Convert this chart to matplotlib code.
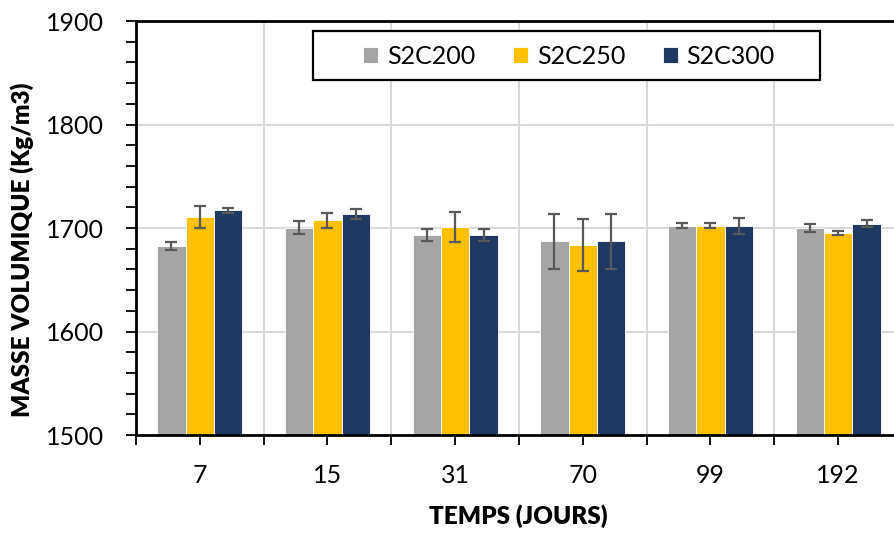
import numpy as np
import matplotlib
matplotlib.use("Agg")
import matplotlib.pyplot as plt
from matplotlib.ticker import MultipleLocator
from matplotlib.patches import Rectangle

# data
jours = ['7', '15', '31', '70', '99', '192']
s2c200 = [1682.5, 1700.3, 1693.2, 1687.4, 1702.2, 1699.7]
s2c250 = [1710.6, 1707.4, 1700.7, 1683.3, 1702.0, 1695.2]
s2c300 = [1717.0, 1713.5, 1693.2, 1687.4, 1702.0, 1704.2]
err200 = [4.0, 6.0, 6.0, 26.6, 2.4, 4.0]
err250 = [11.0, 7.5, 14.5, 25.3, 2.4, 2.0]
err300 = [2.5, 5.0, 6.0, 26.6, 8.0, 3.2]

series = [('S2C200', s2c200, err200, '#A5A5A5'),
          ('S2C250', s2c250, err250, '#FFC000'),
          ('S2C300', s2c300, err300, '#203864')]

plt.rcParams['font.family'] = ['Lato', 'DejaVu Sans']

fig = plt.figure(figsize=(8.95, 5.34), dpi=100)
ax = fig.add_axes([136 / 895, 99 / 534, 766 / 895, 414 / 534])

x = np.arange(len(jours))
w = 0.222
for i, (name, vals, errs, col) in enumerate(series):
    ax.bar(x + (i - 1) * w, np.array(vals) - 1500, w, bottom=1500, color=col,
           edgecolor='white', linewidth=0.6, label=name, zorder=3,
           yerr=errs, error_kw=dict(ecolor='#595959', elinewidth=1.6,
                                    capsize=4, capthick=1.6, zorder=4))

ax.set_xlim(-0.5, 5.5)
ax.set_ylim(1500, 1900)
ax.set_xticks(x)
ax.set_xticklabels(jours)
ax.xaxis.set_minor_locator(MultipleLocator(1, offset=0.5))
ax.yaxis.set_major_locator(MultipleLocator(100))
ax.yaxis.set_minor_locator(MultipleLocator(20))

ax.grid(axis='x', which='minor', color='#d9d9d9', linewidth=1.5, zorder=0)
ax.grid(axis='y', which='major', color='#d9d9d9', linewidth=1.5, zorder=0)

ax.tick_params(axis='both', which='both', direction='out', length=7,
               width=1.3, color='black', labelsize=18)
ax.tick_params(axis='y', which='major', pad=16)
ax.tick_params(axis='x', which='major', pad=14)

for side in ['left', 'bottom', 'top', 'right']:
    ax.spines[side].set_linewidth(2)
    ax.spines[side].set_color('black')
    ax.spines[side].set_zorder(6)

ax.set_xlabel('TEMPS (JOURS)', fontsize=17.5, fontweight='heavy')
ax.xaxis.label.set_va('center')
ax.xaxis.set_label_coords(0.499, -0.196)
ax.set_ylabel('MASSE VOLUMIQUE (Kg/m3)', fontsize=17.5, fontweight='heavy')
ax.yaxis.label.set_va('center')
ax.yaxis.set_label_coords(-0.149, 0.447)

# legend frame drawn separately (wide box with centred entries)
frame = Rectangle(((313 - 136) / 766, (435 - 80) / 414), (820 - 313) / 766, 49 / 414,
                  transform=ax.transAxes, facecolor='white', edgecolor='black',
                  linewidth=1.6, zorder=7)
ax.add_patch(frame)
leg = ax.legend(loc='center', bbox_to_anchor=((569 - 136) / 766, (435 - 56) / 414),
                ncol=3, fontsize=18, frameon=False, handlelength=0.6,
                handleheight=0.6, columnspacing=1.5, handletextpad=0.35,
                borderpad=0, borderaxespad=0)
leg.set_zorder(8)

fig.savefig('out.png', dpi=100)
